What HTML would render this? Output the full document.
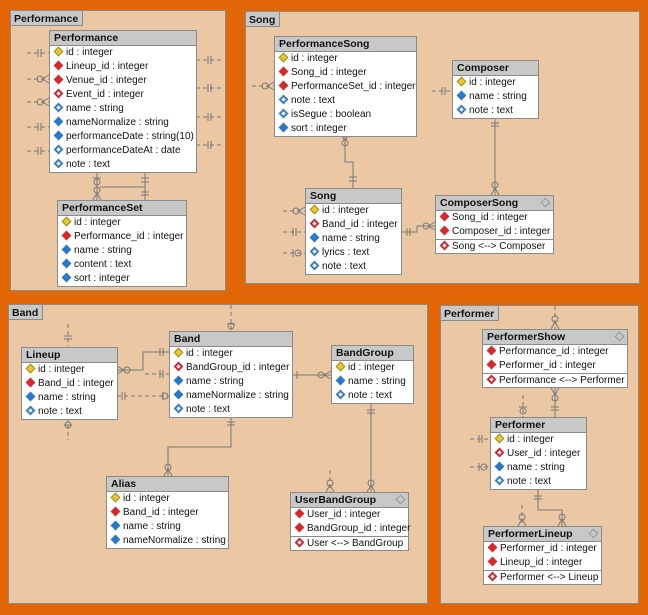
<!DOCTYPE html>
<html><head><meta charset="utf-8">
<style>
*{box-sizing:border-box;margin:0;padding:0}
body{width:648px;height:615px;background:#e26606;position:relative;overflow:hidden;font-family:"Liberation Sans",sans-serif;font-size:10px;color:#111}
.pn{position:absolute;background:#ebc7a3;border:1px solid #8a8a8a}
.pt{position:absolute;left:-1px;top:-1px;background:#c8c8c8;border:1px solid #8a8a8a;font-weight:bold;padding:1px 4px 0 3px;height:16px;line-height:14px;font-size:10.5px}
.t{position:absolute;background:#fff;border:1px solid #8a8a8a}
.h{background:#c8c8c8;border-bottom:1px solid #8a8a8a;font-weight:bold;font-size:10.5px;height:15px;line-height:14px;padding-left:4px;position:relative}
.h .o{position:absolute;right:4px;top:3px;width:7px;height:7px;border:1px solid #999;transform:rotate(45deg)}
.r{height:14px;line-height:14px;padding-left:4px;white-space:nowrap}
.sep{border-top:1px solid #8a8a8a}
.d{display:inline-block;width:7px;height:7px;transform:rotate(45deg);margin:0 4px 0 1px;vertical-align:0px}
.k{background:#e8c836;border:1px solid #a08a10}
.f{background:#d8282c}
.fo{background:#fff;border:2px solid #d02830}
.b{background:#2a78c8}
.bo{background:#fff;border:2px solid #3a80c0}
svg{position:absolute;left:0;top:0}
</style></head><body>

<div class="pn" style="left:10px;top:10px;width:216px;height:281px"><div class="pt">Performance</div></div>
<div class="pn" style="left:245px;top:11px;width:395px;height:273px"><div class="pt">Song</div></div>
<div class="pn" style="left:8px;top:304px;width:420px;height:300px"><div class="pt">Band</div></div>
<div class="pn" style="left:440px;top:305px;width:199px;height:299px"><div class="pt">Performer</div></div>

<svg width="648" height="615" stroke="#7a7a7a" fill="none" stroke-width="1">
<g stroke-dasharray="4,3">
<line x1="27" y1="53" x2="49" y2="53"/><line x1="27" y1="79" x2="49" y2="79"/><line x1="27" y1="102" x2="49" y2="102"/><line x1="27" y1="127" x2="49" y2="127"/><line x1="27" y1="151" x2="49" y2="151"/>
<line x1="196" y1="60" x2="224" y2="60"/><line x1="196" y1="88" x2="224" y2="88"/><line x1="196" y1="117" x2="224" y2="117"/><line x1="196" y1="145" x2="224" y2="145"/>
<line x1="252" y1="86" x2="274" y2="86"/><line x1="432" y1="91" x2="452" y2="91"/>
<line x1="283" y1="211" x2="305" y2="211"/><line x1="283" y1="232" x2="305" y2="232"/><line x1="283" y1="253" x2="305" y2="253"/>
<line x1="68" y1="324" x2="68" y2="346"/><line x1="68" y1="418" x2="68" y2="440"/>
<line x1="117" y1="396" x2="169" y2="396"/><line x1="145" y1="374" x2="169" y2="374"/>
<line x1="231" y1="305" x2="231" y2="331"/><line x1="330" y1="470" x2="330" y2="492"/>
<line x1="555" y1="306" x2="555" y2="329"/><line x1="523" y1="395" x2="523" y2="417"/>
<line x1="470" y1="439" x2="490" y2="439"/><line x1="470" y1="467" x2="490" y2="467"/><line x1="522" y1="505" x2="522" y2="526"/>
</g>
<path d="M97 172V200M145 172V200M100 187H145"/>
<path d="M345 134V162H353V188"/>
<path d="M495 118V195"/>
<path d="M402 232H417V226H435"/>
<path d="M117 370H143V352H169"/>
<path d="M292 375H331"/>
<path d="M231 417V447H168V476"/>
<path d="M371 403V492"/>
<path d="M555 388V417"/>
<path d="M538 489V510H562V526"/>
<g>
<path d="M38 49v8M41 49v8M38 123v8M41 123v8M38 147v8M41 147v8M208 56v8M211 56v8M208 84v8M211 84v8M208 113v8M211 113v8M208 141v8M211 141v8"/>
<path d="M49 75L42 79L49 83M49 98L42 102L49 106"/><circle cx="40" cy="79" r="3"/><circle cx="40" cy="102" r="3"/>
<path d="M93 178h8M141 178h8M141 182h8M141 192h8M141 195h8M93 200L97 193L101 200"/><circle cx="97" cy="190" r="3"/><circle cx="97" cy="182" r="3"/>
<path d="M341 134L345 141L349 134"/><circle cx="345" cy="143" r="3"/><path d="M349 177h8M349 181h8"/>
<path d="M274 82L267 86L274 90"/><circle cx="265" cy="86" r="3"/>
<path d="M442 87v8M445 87v8M491 123h8M491 126h8M491 195L495 188L499 195"/><circle cx="495" cy="185" r="3"/>
<path d="M305 207L298 211L305 215"/><circle cx="296" cy="211" r="3"/><path d="M293 228v8M296 228v8M293 249v8"/><circle cx="298" cy="253" r="3"/>
<path d="M407 228v8M410 228v8M435 222L428 226L435 230"/><circle cx="426" cy="226" r="3"/>
<path d="M64 336h8M64 339h8"/><circle cx="68" cy="425" r="3"/><path d="M64 425h8"/>
<path d="M117 366L124 370L117 374"/><circle cx="127" cy="370" r="3"/><path d="M160 348v8M163 348v8M160 370v8M163 370v8M122 392v8M125 392v8M163 392v8"/><circle cx="165" cy="396" r="3"/>
<path d="M227 324h8"/><circle cx="231" cy="326" r="3"/>
<path d="M331 371L324 375L331 379"/><circle cx="321" cy="375" r="3"/><path d="M297 371v8"/>
<path d="M227 422h8M227 425h8M164 476L168 469L172 476"/><circle cx="168" cy="467" r="3"/>
<path d="M367 410h8M367 413h8M367 492L371 485L375 492M326 492L330 485L334 492"/><circle cx="371" cy="483" r="3"/><circle cx="330" cy="483" r="3"/>
<path d="M551 329L555 322L559 329"/><circle cx="555" cy="319" r="3"/>
<path d="M551 388L555 395L559 388"/><circle cx="555" cy="398" r="3"/><path d="M551 407h8M551 410h8M519 407h8"/><circle cx="523" cy="411" r="3"/>
<path d="M479 435v8M482 435v8M479 463v8"/><circle cx="484" cy="467" r="3"/>
<path d="M534 496h8M534 499h8M518 526L522 519L526 526M558 526L562 519L566 526"/><circle cx="522" cy="517" r="3"/><circle cx="562" cy="517" r="3"/>
</g>
</svg>

<div class="t" style="left:49px;top:30px;width:148px">
<div class="h">Performance</div>
<div class="r"><i class="d k"></i>id : integer</div>
<div class="r"><i class="d f"></i>Lineup_id : integer</div>
<div class="r"><i class="d f"></i>Venue_id : integer</div>
<div class="r"><i class="d fo"></i>Event_id : integer</div>
<div class="r"><i class="d bo"></i>name : string</div>
<div class="r"><i class="d b"></i>nameNormalize : string</div>
<div class="r"><i class="d b"></i>performanceDate : string(10)</div>
<div class="r"><i class="d bo"></i>performanceDateAt : date</div>
<div class="r"><i class="d bo"></i>note : text</div>
</div>

<div class="t" style="left:57px;top:200px;width:130px">
<div class="h">PerformanceSet</div>
<div class="r"><i class="d k"></i>id : integer</div>
<div class="r"><i class="d f"></i>Performance_id : integer</div>
<div class="r"><i class="d b"></i>name : string</div>
<div class="r"><i class="d b"></i>content : text</div>
<div class="r"><i class="d b"></i>sort : integer</div>
</div>

<div class="t" style="left:274px;top:36px;width:143px">
<div class="h">PerformanceSong</div>
<div class="r"><i class="d k"></i>id : integer</div>
<div class="r"><i class="d f"></i>Song_id : integer</div>
<div class="r"><i class="d f"></i>PerformanceSet_id : integer</div>
<div class="r"><i class="d bo"></i>note : text</div>
<div class="r"><i class="d bo"></i>isSegue : boolean</div>
<div class="r"><i class="d b"></i>sort : integer</div>
</div>

<div class="t" style="left:452px;top:60px;width:87px">
<div class="h">Composer</div>
<div class="r"><i class="d k"></i>id : integer</div>
<div class="r"><i class="d b"></i>name : string</div>
<div class="r"><i class="d bo"></i>note : text</div>
</div>

<div class="t" style="left:305px;top:188px;width:97px">
<div class="h">Song</div>
<div class="r"><i class="d k"></i>id : integer</div>
<div class="r"><i class="d fo"></i>Band_id : integer</div>
<div class="r"><i class="d b"></i>name : string</div>
<div class="r"><i class="d bo"></i>lyrics : text</div>
<div class="r"><i class="d bo"></i>note : text</div>
</div>

<div class="t" style="left:435px;top:195px;width:119px">
<div class="h">ComposerSong<span class="o"></span></div>
<div class="r"><i class="d f"></i>Song_id : integer</div>
<div class="r"><i class="d f"></i>Composer_id : integer</div>
<div class="r sep"><i class="d fo"></i>Song &lt;--&gt; Composer</div>
</div>

<div class="t" style="left:21px;top:347px;width:97px">
<div class="h">Lineup</div>
<div class="r"><i class="d k"></i>id : integer</div>
<div class="r"><i class="d f"></i>Band_id : integer</div>
<div class="r"><i class="d b"></i>name : string</div>
<div class="r"><i class="d bo"></i>note : text</div>
</div>

<div class="t" style="left:169px;top:331px;width:124px">
<div class="h">Band</div>
<div class="r"><i class="d k"></i>id : integer</div>
<div class="r"><i class="d fo"></i>BandGroup_id : integer</div>
<div class="r"><i class="d b"></i>name : string</div>
<div class="r"><i class="d b"></i>nameNormalize : string</div>
<div class="r"><i class="d bo"></i>note : text</div>
</div>

<div class="t" style="left:331px;top:345px;width:83px">
<div class="h">BandGroup</div>
<div class="r"><i class="d k"></i>id : integer</div>
<div class="r"><i class="d b"></i>name : string</div>
<div class="r"><i class="d bo"></i>note : text</div>
</div>

<div class="t" style="left:106px;top:476px;width:123px">
<div class="h">Alias</div>
<div class="r"><i class="d k"></i>id : integer</div>
<div class="r"><i class="d f"></i>Band_id : integer</div>
<div class="r"><i class="d b"></i>name : string</div>
<div class="r"><i class="d b"></i>nameNormalize : string</div>
</div>

<div class="t" style="left:290px;top:492px;width:119px">
<div class="h">UserBandGroup<span class="o"></span></div>
<div class="r"><i class="d f"></i>User_id : integer</div>
<div class="r"><i class="d f"></i>BandGroup_id : integer</div>
<div class="r sep"><i class="d fo"></i>User &lt;--&gt; BandGroup</div>
</div>

<div class="t" style="left:482px;top:329px;width:146px">
<div class="h">PerformerShow<span class="o"></span></div>
<div class="r"><i class="d f"></i>Performance_id : integer</div>
<div class="r"><i class="d f"></i>Performer_id : integer</div>
<div class="r sep"><i class="d fo"></i>Performance &lt;--&gt; Performer</div>
</div>

<div class="t" style="left:490px;top:417px;width:97px">
<div class="h">Performer</div>
<div class="r"><i class="d k"></i>id : integer</div>
<div class="r"><i class="d fo"></i>User_id : integer</div>
<div class="r"><i class="d b"></i>name : string</div>
<div class="r"><i class="d bo"></i>note : text</div>
</div>

<div class="t" style="left:483px;top:526px;width:119px">
<div class="h">PerformerLineup<span class="o"></span></div>
<div class="r"><i class="d f"></i>Performer_id : integer</div>
<div class="r"><i class="d f"></i>Lineup_id : integer</div>
<div class="r sep"><i class="d fo"></i>Performer &lt;--&gt; Lineup</div>
</div>

</body></html>
